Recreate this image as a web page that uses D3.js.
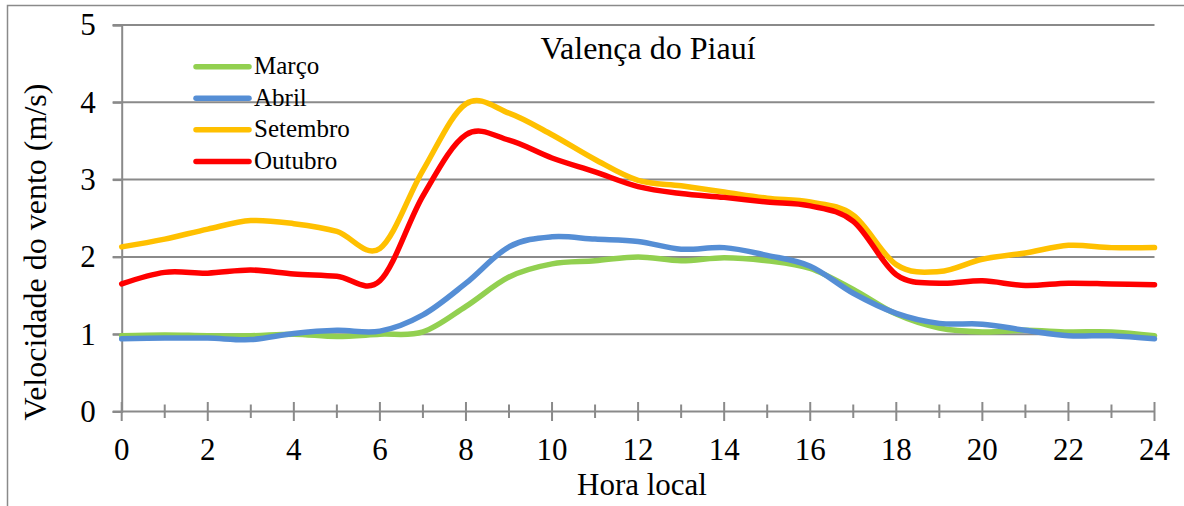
<!DOCTYPE html>
<html>
<head>
<meta charset="utf-8">
<script src="https://cdn.jsdelivr.net/npm/d3@7"></script>
<style>
  html, body { margin: 0; padding: 0; background: #fff; }
  svg { display: block; }
</style>
</head>
<body>
<svg id="chart" width="1184" height="506"></svg>
<script>
// Hourly mean wind speed (m/s), hours 0..24
const hours = d3.range(0, 25);
const marco    = [0.98,0.99,0.98,0.98,1.00,0.97,1.00,1.03,1.36,1.74,1.91,1.95,2.00,1.95,1.99,1.95,1.85,1.58,1.26,1.08,1.03,1.05,1.03,1.03,0.98];
const abril    = [0.94,0.95,0.95,0.93,1.01,1.05,1.04,1.25,1.66,2.13,2.26,2.23,2.20,2.10,2.12,2.02,1.88,1.53,1.27,1.14,1.13,1.05,0.98,0.98,0.94];
const setembro = [2.13,2.23,2.36,2.47,2.43,2.33,2.11,3.12,3.98,3.86,3.58,3.26,2.99,2.92,2.84,2.76,2.71,2.54,1.90,1.81,1.97,2.05,2.15,2.12,2.12];
const outubro  = [1.65,1.80,1.79,1.83,1.78,1.75,1.69,2.79,3.58,3.51,3.28,3.10,2.91,2.82,2.77,2.71,2.66,2.46,1.77,1.66,1.69,1.63,1.66,1.65,1.64];

const seriesNames  = ["Março", "Abril", "Setembro", "Outubro"];
const seriesValues = [marco, abril, setembro, outubro];
const seriesColors = ["#92D050", "#558ED5", "#FFC000", "#FF0000"];

const xTickValues = d3.range(0, 25, 2);
const yTickValues = [0, 1, 2, 3, 4, 5];

const title  = "Valença do Piauí";
const xTitle = "Hora local";
const yTitle = "Velocidade do vento (m/s)";

const serif = "'Liberation Serif', 'Times New Roman', serif";
const svg = d3.select("#chart");
const grey = "#8a8a8a";

// outer frame
svg.append("rect")
  .attr("x", 7.5).attr("y", 5.5)
  .attr("width", 1200).attr("height", 520)
  .attr("fill", "none").attr("stroke", grey).attr("stroke-width", 1.5);

const plot = { left: 121.7, right: 1154.5, top: 25, bottom: 411.5 };

const x = d3.scaleLinear().domain([0, 24]).range([plot.left, plot.right]);
const y = d3.scaleLinear().domain([0, 5]).range([plot.bottom, plot.top]);

function label(sel, size) {
  return sel.style("font-family", serif).style("font-size", size + "px").attr("fill", "#000");
}

// horizontal gridlines with outward tick
svg.append("g")
  .selectAll("line")
  .data(yTickValues.filter(d => d > 0))
  .join("line")
  .attr("x1", plot.left - 9).attr("x2", plot.right)
  .attr("y1", d => y(d)).attr("y2", d => y(d))
  .attr("stroke", grey).attr("stroke-width", 2);

// y axis
const yAxis = svg.append("g")
  .attr("transform", `translate(${plot.left},0)`)
  .call(d3.axisLeft(y).tickValues(yTickValues).tickSize(9).tickPadding(17).tickFormat(d3.format("d")));
yAxis.select(".domain").attr("stroke", grey).attr("stroke-width", 2);
yAxis.selectAll(".tick line").attr("stroke", grey).attr("stroke-width", 2);
label(yAxis.selectAll(".tick text"), 31);

// x axis: major ticks on even hours, minor on odd hours, both crossing the axis
const xg = svg.append("g").attr("transform", `translate(0,${plot.bottom})`);
xg.append("line")
  .attr("x1", plot.left - 9).attr("x2", plot.right)
  .attr("stroke", grey).attr("stroke-width", 2);
xg.selectAll("line.minor")
  .data(hours.filter(h => h % 2 === 1))
  .join("line").attr("class", "minor")
  .attr("x1", d => x(d)).attr("x2", d => x(d))
  .attr("y1", -7).attr("y2", 6.5)
  .attr("stroke", grey).attr("stroke-width", 2);
xg.selectAll("line.major")
  .data(xTickValues)
  .join("line").attr("class", "major")
  .attr("x1", d => x(d)).attr("x2", d => x(d))
  .attr("y1", -9.5).attr("y2", 9.5)
  .attr("stroke", grey).attr("stroke-width", 2);
label(xg.selectAll("text")
  .data(xTickValues)
  .join("text")
  .attr("x", d => x(d)).attr("y", 48.5)
  .attr("text-anchor", "middle")
  .text(d => d), 31);

// series lines (Excel-style smoothing)
const line = d3.line()
  .x((d, i) => x(hours[i]))
  .y(d => y(d))
  .curve(d3.curveCardinal.tension(0));

svg.append("g")
  .selectAll("path")
  .data(seriesValues)
  .join("path")
  .attr("d", d => line(d))
  .attr("fill", "none")
  .attr("stroke", (d, i) => seriesColors[i])
  .attr("stroke-width", 5.5)
  .attr("stroke-linejoin", "round")
  .attr("stroke-linecap", "round");

// legend
const legend = svg.append("g");
const legY = [66.7, 98.3, 129.8, 161.5];
seriesNames.forEach((name, i) => {
  legend.append("line")
    .attr("x1", 196).attr("x2", 249)
    .attr("y1", legY[i]).attr("y2", legY[i])
    .attr("stroke", seriesColors[i]).attr("stroke-width", 5.5)
    .attr("stroke-linecap", "round");
  label(legend.append("text")
    .attr("x", 254).attr("y", legY[i] + 7.5)
    .text(name), 25);
});

// title
label(svg.append("text")
  .attr("x", 648).attr("y", 59)
  .attr("text-anchor", "middle")
  .text(title), 32);

// axis titles
label(svg.append("text")
  .attr("x", 642).attr("y", 495)
  .attr("text-anchor", "middle")
  .text(xTitle), 31);

label(svg.append("text")
  .attr("transform", "translate(46,252) rotate(-90)")
  .attr("text-anchor", "middle")
  .text(yTitle), 32);
</script>
</body>
</html>
